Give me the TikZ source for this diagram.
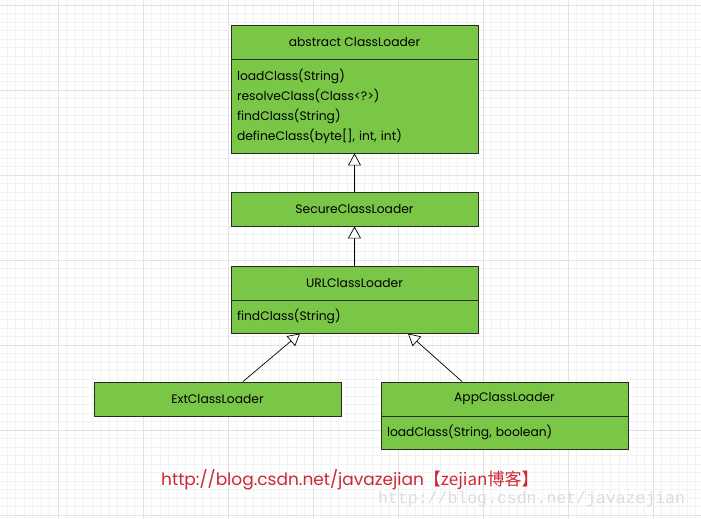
\documentclass[tikz,border=0pt]{standalone}
\usepackage{fontspec}
\setmainfont{Poppins}
\newfontfamily\cjkfont{Noto Sans CJK SC}
\newfontfamily\wmfont{Liberation Mono}
\usetikzlibrary{arrows.meta,calc}
\definecolor{boxgreen}{RGB}{122,199,71}
\definecolor{boxborder}{RGB}{40,44,36}
\definecolor{gridminor}{RGB}{242,242,242}
\definecolor{gridmajor}{RGB}{226,226,226}
\definecolor{linkred}{RGB}{204,40,50}
\definecolor{wmgrey}{RGB}{220,220,220}
\tikzset{
  umlbox/.style={draw=boxborder, fill=boxgreen, line width=0.9pt, minimum width=247pt, inner sep=0pt, font=\fontsize{12.3}{20}\selectfont},
  umlbody/.style={umlbox, align=left, text width=235pt, inner xsep=6pt},
  inh/.style={draw=black, line width=0.7pt, -{Triangle[open, fill=white, length=12pt, width=13pt, line width=0.7pt]}},
  minorline/.style={draw=gridminor, line width=0.6pt},
  majorline/.style={draw=gridmajor, line width=0.8pt}
}
\begin{document}
\begin{tikzpicture}[x=1pt,y=-1pt]
\useasboundingbox (0,0) rectangle (701,519);
\fill[white] (0,0) rectangle (701,519);
% grid
\foreach \i in {0,...,83} {\draw[minorline] ({-1.5+8.5*\i},0) -- ++(0,519);}
\foreach \i in {0,...,62} {\draw[minorline] (0,{5+8.5*\i}) -- ++(701,0);}
\foreach \i in {0,...,8} {\draw[majorline] ({58+85*(\i-1)},0) -- ++(0,519);}
\foreach \i in {0,...,6} {\draw[majorline] (0,{5+85*\i}) -- ++(701,0);}

% ClassLoader
\node[umlbox, minimum height=34pt] (cl) at (354.5,42) {abstract ClassLoader};
\node[umlbody, minimum height=94pt] (clm) at (354.5,106) {loadClass(String)\\resolveClass(Class<?>)\\findClass(String)\\defineClass(byte[], int, int)};
% SecureClassLoader
\node[umlbox, minimum height=34pt] (sec) at (354.5,209) {SecureClassLoader};
% URLClassLoader
\node[umlbox, minimum height=34pt] (url) at (354.5,283) {URLClassLoader};
\node[umlbody, minimum height=33pt] (urlm) at (354.5,316.5) {findClass(String)};
% Ext
\node[umlbox, minimum height=34pt] (ext) at (217.5,399) {ExtClassLoader};
% App
\node[umlbox, minimum height=34pt] (app) at (504.5,399) {AppClassLoader};
\node[umlbody, minimum height=33pt] (appm) at (504.5,432.5) {loadClass(String, boolean)};

% connectors
\draw[inh] (sec.north) -- (clm.south);
\draw[inh] (url.north) -- (sec.south);
\draw[inh] ([xshift=25.5pt]ext.north) -- ([xshift=-54.5pt]urlm.south);
\draw[inh] ([xshift=-42.5pt]app.north) -- ([xshift=53.5pt]urlm.south);

% footer texts
\node[anchor=west, text=linkred, font=\fontsize{17}{20}\selectfont, inner sep=0pt] (link) at (161,480) {http://blog.csdn.net/javazejian{\cjkfont 【zejian博客】}};
\node[anchor=west, text=wmgrey, font=\wmfont\fontsize{16.5}{18}\selectfont, inner sep=0pt] (wm) at (378,499) {http://blog.csdn.net/javazejian};
\end{tikzpicture}
\end{document}
